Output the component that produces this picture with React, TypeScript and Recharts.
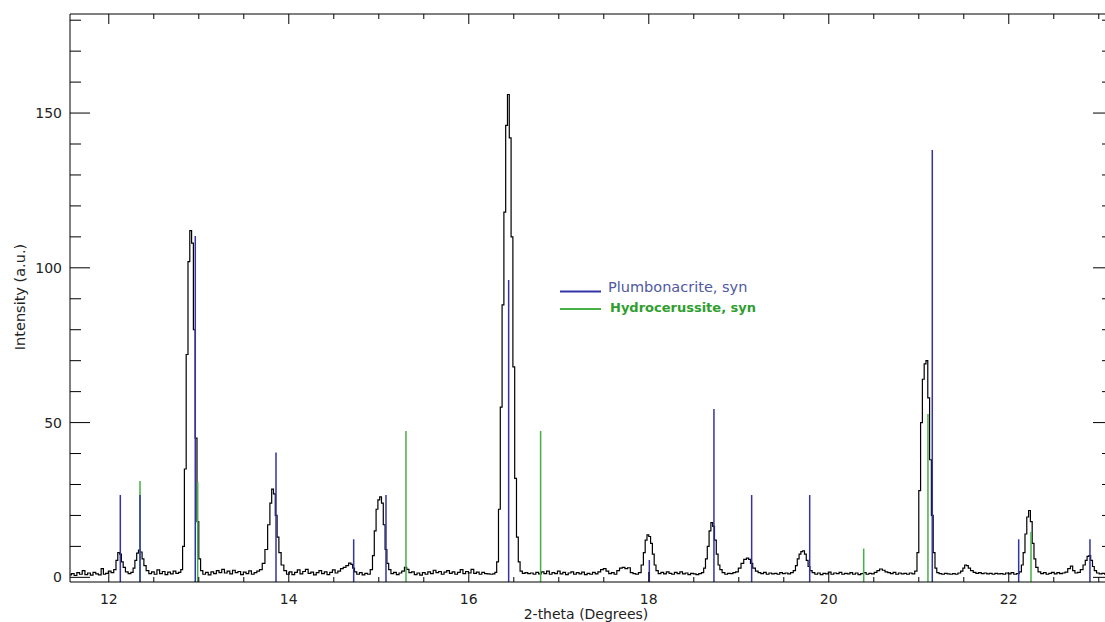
import React from 'react';
import { ComposedChart, Line, XAxis, YAxis, ReferenceLine } from 'recharts';

// measured diffraction scan: [2-theta (deg), intensity (a.u.)]
const scanPoints: [number, number][] = [
  [11.57, 0.8], [11.6, 1.2], [11.63, 0.6], [11.66, 1.5], [11.69, 1.0], [11.72, 2.2], [11.75, 0.9], [11.78, 1.4],
  [11.81, 0.7], [11.84, 1.6], [11.87, 1.1], [11.9, 0.8], [11.93, 2.8], [11.95, 1.0], [11.98, 1.3], [12.01, 2.0],
  [12.04, 1.5],
  [12.07, 2.5], [12.09, 5.5], [12.11, 8.0], [12.13, 7.5], [12.15, 5.0], [12.17, 3.2], [12.2, 1.8], [12.23, 1.2],
  [12.26, 1.6], [12.28, 3.0], [12.3, 5.5], [12.32, 7.8], [12.34, 8.8], [12.36, 8.2], [12.38, 6.0], [12.4, 3.8],
  [12.43, 2.2], [12.46, 1.2],
  [12.49, 1.8], [12.52, 1.0], [12.55, 2.4], [12.58, 1.2], [12.61, 1.9], [12.64, 0.9], [12.67, 1.7], [12.7, 1.1],
  [12.73, 2.0], [12.76, 1.3], [12.79, 1.6],
  [12.81, 2.5], [12.83, 10], [12.85, 35], [12.87, 72], [12.89, 102], [12.91, 112], [12.93, 108], [12.95, 80],
  [12.97, 45], [12.99, 18], [13.01, 6], [13.03, 2.2],
  [13.06, 1.0], [13.09, 1.6], [13.12, 0.8], [13.15, 1.8], [13.18, 1.2], [13.21, 2.2], [13.24, 1.5], [13.27, 2.6],
  [13.3, 1.4], [13.33, 2.0], [13.36, 1.1], [13.39, 2.3], [13.42, 1.5], [13.45, 1.9], [13.48, 0.9], [13.51, 1.7],
  [13.54, 1.2], [13.57, 2.1], [13.6, 1.0], [13.63, 1.5], [13.66, 2.0],
  [13.69, 2.5], [13.72, 4.5], [13.75, 9], [13.78, 17], [13.8, 24], [13.82, 28.5], [13.84, 27], [13.86, 20],
  [13.88, 13], [13.9, 8], [13.93, 4], [13.96, 2.2],
  [13.99, 1.0], [14.02, 1.8], [14.05, 0.9], [14.08, 1.6], [14.11, 2.4], [14.14, 1.1], [14.17, 1.9], [14.2, 2.6],
  [14.23, 1.3], [14.26, 1.7], [14.29, 0.8], [14.32, 1.5], [14.35, 2.2], [14.38, 1.2], [14.41, 1.8], [14.44, 0.9],
  [14.47, 1.6], [14.5, 2.4], [14.53, 1.4],
  [14.56, 2.0], [14.59, 2.8], [14.62, 3.2], [14.65, 3.8], [14.68, 4.6], [14.7, 4.2], [14.72, 3.0], [14.74, 1.8],
  [14.77, 1.0], [14.8, 1.5], [14.83, 0.8], [14.86, 1.3], [14.89, 1.0],
  [14.92, 2.5], [14.94, 7], [14.96, 15], [14.98, 22], [15.0, 25], [15.02, 26], [15.04, 24], [15.06, 17],
  [15.08, 9], [15.1, 4.5], [15.12, 2.5], [15.15, 1.2],
  [15.18, 1.6], [15.21, 0.9], [15.24, 1.4], [15.27, 2.0], [15.3, 3.2], [15.32, 2.6], [15.35, 1.5], [15.38, 1.8],
  [15.41, 0.9], [15.44, 1.4], [15.47, 0.7], [15.5, 1.5], [15.53, 1.0], [15.56, 1.8], [15.59, 1.2], [15.62, 2.3],
  [15.65, 1.5], [15.68, 1.9], [15.71, 1.0], [15.74, 1.7], [15.77, 2.2], [15.8, 1.3], [15.83, 1.8], [15.86, 1.0],
  [15.89, 1.6], [15.92, 2.5], [15.95, 1.2], [15.98, 1.9], [16.01, 1.4], [16.04, 2.6], [16.07, 1.3], [16.1, 1.7],
  [16.13, 1.0], [16.16, 1.6], [16.19, 1.2], [16.22, 1.1], [16.25, 1.0], [16.28, 1.1],
  [16.3, 1.6], [16.32, 5], [16.34, 22], [16.36, 55], [16.38, 88], [16.4, 118], [16.42, 146], [16.44, 156],
  [16.46, 142], [16.48, 110], [16.5, 68], [16.52, 32], [16.54, 13], [16.56, 5], [16.58, 2],
  [16.61, 1.3], [16.64, 1.5], [16.67, 1.2], [16.7, 1.4], [16.73, 1.0], [16.76, 1.6], [16.79, 1.1], [16.82, 1.8],
  [16.85, 1.2], [16.88, 2.0], [16.91, 1.0], [16.94, 1.5], [16.97, 1.2], [17.0, 2.0], [17.03, 1.1], [17.06, 1.6],
  [17.09, 0.9], [17.12, 1.4], [17.15, 1.8], [17.18, 1.0], [17.21, 1.5], [17.24, 1.1], [17.27, 1.7], [17.3, 0.9],
  [17.33, 1.3], [17.36, 1.0], [17.39, 1.6], [17.42, 1.1], [17.45, 1.8], [17.48, 2.5], [17.51, 2.8], [17.54, 2.0],
  [17.57, 1.2], [17.6, 1.5], [17.63, 1.0], [17.66, 2.2], [17.69, 3.0], [17.72, 3.2], [17.75, 2.8], [17.78, 3.1],
  [17.81, 1.5], [17.84, 1.2], [17.87, 1.0],
  [17.9, 1.5], [17.93, 4], [17.95, 8], [17.97, 12], [17.99, 13.7], [18.01, 13.2], [18.03, 11], [18.05, 7.5],
  [18.07, 4], [18.09, 2.2], [18.12, 1.2],
  [18.15, 1.6], [18.18, 1.1], [18.21, 1.8], [18.24, 1.3], [18.27, 1.0], [18.3, 1.6], [18.33, 1.2], [18.36, 1.8],
  [18.39, 1.1], [18.42, 1.4], [18.45, 0.9], [18.48, 1.3], [18.51, 1.1], [18.54, 0.9], [18.57, 1.2],
  [18.6, 1.5], [18.62, 3], [18.64, 6], [18.66, 10], [18.68, 15], [18.7, 17.7], [18.72, 16.5], [18.74, 12],
  [18.76, 7.5], [18.78, 4], [18.8, 2.5], [18.83, 1.5],
  [18.86, 1.0], [18.89, 1.3], [18.92, 1.2], [18.95, 1.5], [18.98, 1.8],
  [19.01, 3], [19.04, 4.5], [19.07, 5.8], [19.1, 6.2], [19.12, 5.8], [19.14, 4.5], [19.17, 3], [19.2, 2],
  [19.23, 1.5],
  [19.26, 1.2], [19.29, 1.6], [19.32, 1.0], [19.35, 1.4], [19.38, 1.1], [19.41, 1.3], [19.44, 1.0], [19.47, 1.5],
  [19.5, 1.2], [19.53, 1.4], [19.56, 1.1], [19.59, 1.5],
  [19.62, 2.2], [19.64, 3.8], [19.66, 6], [19.68, 7.5], [19.7, 8.3], [19.72, 8.6], [19.74, 7.5], [19.76, 5.5],
  [19.78, 3.5], [19.8, 2.2], [19.83, 1.5],
  [19.86, 1.0], [19.89, 1.4], [19.92, 0.9], [19.95, 1.3], [19.98, 1.1], [20.01, 1.7], [20.04, 1.0], [20.07, 1.4],
  [20.1, 1.2], [20.13, 1.6], [20.16, 1.0], [20.19, 1.3], [20.22, 1.1], [20.25, 1.5], [20.28, 1.0], [20.31, 1.4],
  [20.34, 0.9], [20.37, 1.2], [20.4, 1.5], [20.43, 1.0], [20.46, 1.3], [20.49, 1.1], [20.52, 1.6], [20.55, 2.2],
  [20.58, 2.7], [20.61, 2.3], [20.64, 1.8], [20.67, 1.5], [20.7, 1.2], [20.73, 1.6], [20.76, 1.0], [20.79, 1.4],
  [20.82, 1.1], [20.85, 1.3], [20.88, 1.0], [20.91, 1.4], [20.94, 1.1],
  [20.97, 2], [20.99, 8], [21.01, 28], [21.03, 50], [21.05, 64], [21.07, 69], [21.09, 70], [21.11, 58],
  [21.13, 38], [21.15, 20], [21.17, 8], [21.19, 3], [21.21, 1.5],
  [21.24, 1.2], [21.27, 1.0], [21.3, 1.3], [21.33, 1.1], [21.36, 1.0], [21.39, 1.2], [21.42, 1.0], [21.45, 1.4],
  [21.48, 2.0], [21.5, 3], [21.52, 4], [21.54, 3.8], [21.56, 3], [21.59, 2.2], [21.62, 1.6],
  [21.65, 1.3], [21.68, 1.5], [21.71, 1.2], [21.74, 1.4], [21.77, 1.1], [21.8, 1.3], [21.83, 1.0], [21.86, 1.3],
  [21.89, 1.1], [21.92, 1.2], [21.95, 1.0], [21.98, 1.4], [22.01, 1.1], [22.04, 1.5], [22.07, 1.0], [22.1, 1.2],
  [22.13, 1.8], [22.15, 4], [22.17, 8], [22.19, 14], [22.21, 19.5], [22.23, 21.6], [22.25, 18], [22.27, 11],
  [22.29, 6], [22.31, 3.2], [22.34, 1.8],
  [22.37, 1.2], [22.4, 1.5], [22.43, 1.0], [22.46, 1.3], [22.49, 1.6], [22.52, 1.1], [22.55, 1.5], [22.58, 1.2],
  [22.61, 1.4], [22.64, 1.7], [22.67, 2.8], [22.7, 3.6], [22.72, 2.2], [22.75, 1.4], [22.78, 1.6],
  [22.81, 2.5], [22.84, 4], [22.86, 5.5], [22.88, 6.8], [22.9, 7], [22.92, 5.5], [22.94, 3.5], [22.96, 2.2],
  [22.99, 1.4], [23.02, 1.1], [23.05, 1.3], [23.08, 1.0], [23.12, 1.2], [23.16, 1.0],
];

// reference stick patterns
const plumbonacritePos = [12.128, 12.347, 12.961, 13.858, 14.721, 15.08, 16.443, 18.006, 18.724, 19.143, 19.788, 21.15, 22.11, 22.902];
const plumbonacriteInt = [26.6, 26.6, 110.3, 40.3, 12.3, 26.6, 96.1, 5.6, 54.4, 26.6, 26.6, 138.1, 12.3, 12.3];
const hydrocerussitePos = [12.347, 12.988, 15.302, 16.798, 20.388, 21.102, 22.247];
const hydrocerussiteInt = [31.1, 30.9, 47.3, 47.3, 9.3, 52.8, 14.7];

const xAllTicks = [12, 12.5, 13, 13.5, 14, 14.5, 15, 15.5, 16, 16.5, 17, 17.5, 18, 18.5, 19, 19.5, 20, 20.5, 21, 21.5, 22, 22.5, 23];
const xLabelTicks = [12, 14, 16, 18, 20, 22];
const yAllTicks = [0, 10, 20, 30, 40, 50, 60, 70, 80, 90, 100, 110, 120, 130, 140, 150, 160, 170, 180];
const yLabelTicks = [0, 50, 100, 150];

const X_MIN = 11.569;
const X_MAX = 23.158;
const Y_MIN = -1.5;
const Y_MAX = 182;

const BLUE = '#3434a4';
const GREEN = '#45b045';
const FONT = 'DejaVu Sans';

const chartData = scanPoints.map(([x, y]) => ({ x, y }));

const BottomTick = (props: any) => {
  const { x, y, payload } = props;
  const v = payload.value;
  const major = xLabelTicks.includes(v);
  return (
    <g>
      <line x1={x} x2={x} y1={y} y2={y - (major ? 10 : 5)} stroke="#000" strokeWidth={1} />
      {major && (
        <text x={x} y={y + 17} textAnchor="middle" dominantBaseline="central" fontFamily={FONT} fontSize={14} fill="#222">
          {v}
        </text>
      )}
    </g>
  );
};

const TopTick = (props: any) => {
  const { x, y, payload } = props;
  const major = xLabelTicks.includes(payload.value);
  return <line x1={x} x2={x} y1={y} y2={y + (major ? 10 : 5)} stroke="#000" strokeWidth={1} />;
};

const LeftTick = (props: any) => {
  const { x, y, payload } = props;
  const v = payload.value;
  const major = yLabelTicks.includes(v);
  return (
    <g>
      <line x1={x} x2={x + (major ? 20 : 11)} y1={y} y2={y} stroke="#000" strokeWidth={1} />
      {major && (
        <text x={x - 8} y={y} textAnchor="end" dominantBaseline="central" fontFamily={FONT} fontSize={14} fill="#222">
          {v}
        </text>
      )}
    </g>
  );
};

const RightTick = (props: any) => {
  const { x, y, payload } = props;
  const major = yLabelTicks.includes(payload.value);
  return <line x1={x} x2={x - (major ? 20 : 11)} y1={y} y2={y} stroke="#000" strokeWidth={1} />;
};

export default function App() {
  return (
    <div style={{ position: 'fixed', left: 0, top: 0, width: 1105, height: 622, overflow: 'hidden', background: '#fff' }}>
      <ComposedChart width={1120} height={622} data={chartData} margin={{ top: 13, right: 6, bottom: 0, left: 0 }}>
        <XAxis
          xAxisId="b"
          dataKey="x"
          type="number"
          orientation="bottom"
          domain={[X_MIN, X_MAX]}
          allowDataOverflow
          ticks={xAllTicks}
          interval={0}
          height={40}
          tickSize={0}
          tickMargin={0}
          tickLine={false}
          axisLine={{ stroke: '#000' }}
          tick={<BottomTick />}
        />
        <XAxis
          xAxisId="t"
          dataKey="x"
          type="number"
          orientation="top"
          domain={[X_MIN, X_MAX]}
          allowDataOverflow
          ticks={xAllTicks}
          interval={0}
          height={1}
          tickSize={0}
          tickMargin={0}
          tickLine={false}
          axisLine={{ stroke: '#000' }}
          tick={<TopTick />}
        />
        <YAxis
          yAxisId="l"
          type="number"
          orientation="left"
          domain={[Y_MIN, Y_MAX]}
          allowDataOverflow
          ticks={yAllTicks}
          interval={0}
          width={70}
          tickSize={0}
          tickMargin={0}
          tickLine={false}
          axisLine={{ stroke: '#000' }}
          tick={<LeftTick />}
        />
        <YAxis
          yAxisId="r"
          type="number"
          orientation="right"
          domain={[Y_MIN, Y_MAX]}
          allowDataOverflow
          ticks={yAllTicks}
          interval={0}
          width={1}
          tickSize={0}
          tickMargin={0}
          tickLine={false}
          axisLine={{ stroke: '#000' }}
          tick={<RightTick />}
        />
        <Line
          xAxisId="b"
          yAxisId="l"
          dataKey="y"
          type="step"
          stroke="#000"
          strokeWidth={1.2}
          dot={false}
          activeDot={false}
          isAnimationActive={false}
        />
        {hydrocerussitePos.map((p, i) => (
          <ReferenceLine
            key={'h' + i}
            xAxisId="b"
            yAxisId="l"
            segment={[{ x: p, y: Y_MIN }, { x: p, y: hydrocerussiteInt[i] }]}
            stroke={GREEN}
            strokeWidth={1.5}
            ifOverflow="visible"
          />
        ))}
        {plumbonacritePos.map((p, i) => (
          <ReferenceLine
            key={'p' + i}
            xAxisId="b"
            yAxisId="l"
            segment={[{ x: p, y: Y_MIN }, { x: p, y: plumbonacriteInt[i] }]}
            stroke={BLUE}
            strokeWidth={1.5}
            ifOverflow="visible"
          />
        ))}
      </ComposedChart>
      <svg width={1105} height={622} style={{ position: 'absolute', left: 0, top: 0, pointerEvents: 'none' }}>
        <text x={20} y={297} transform="rotate(-90 20 297)" textAnchor="middle" dominantBaseline="central" fontFamily={FONT} fontSize={14.5} fill="#222">
          Intensity (a.u.)
        </text>
        <text x={586} y={614} textAnchor="middle" dominantBaseline="central" fontFamily={FONT} fontSize={14} fill="#222">
          2-theta (Degrees)
        </text>
        <line x1={560} x2={601} y1={291.5} y2={291.5} stroke={BLUE} strokeWidth={2} />
        <text x={608} y={287} dominantBaseline="central" fontFamily={FONT} fontSize={14.5} fill="#4f58a0">
          Plumbonacrite, syn
        </text>
        <line x1={560} x2={601} y1={309} y2={309} stroke={GREEN} strokeWidth={2} />
        <text x={610} y={307} dominantBaseline="central" fontFamily={FONT} fontSize={13} fontWeight="bold" fill="#2e9e2e">
          Hydrocerussite, syn
        </text>
      </svg>
    </div>
  );
}
